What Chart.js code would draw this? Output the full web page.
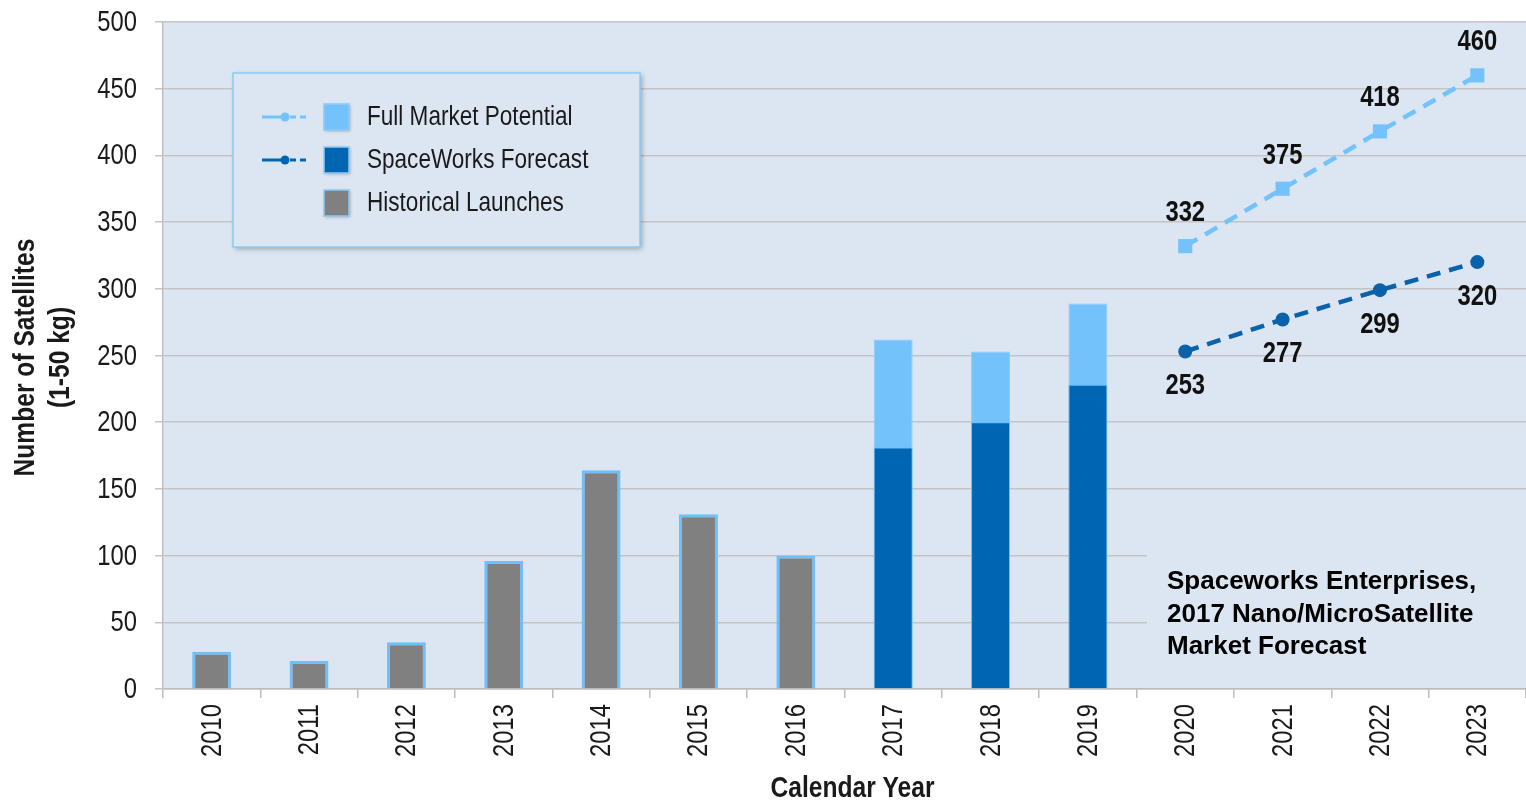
<!DOCTYPE html>
<html>
<head>
<meta charset="utf-8">
<script src="https://cdn.jsdelivr.net/npm/chart.js@4"></script>
<style>
  html, body { margin: 0; padding: 0; background: #fff; overflow: hidden; }
  #wrap { width: 1526px; height: 803px; }
  #satChart { display: block; }
</style>
</head>
<body>
<div id="wrap"><canvas id="satChart" width="1526" height="803"></canvas></div>
<script>
Chart.defaults.animation = false;

// --- Data ---
const years = ['2010', '2011', '2012', '2013', '2014', '2015', '2016', '2017', '2018', '2019', '2020', '2021', '2022', '2023'];
const historical = [28, 21, 35, 96, 164, 131, 100, null, null, null, null, null, null, null];
const forecastBars = [null, null, null, null, null, null, null, 181, 200, 228, null, null, null, null];
const fullBars = [null, null, null, null, null, null, null, 262, 253, 289, null, null, null, null];
const fullLine = [null, null, null, null, null, null, null, null, null, null, 332, 375, 418, 460];
const forecastLine = [null, null, null, null, null, null, null, null, null, null, 253, 277, 299, 320];
const yTicks = [0, 50, 100, 150, 200, 250, 300, 350, 400, 450, 500];
const yTitle = ['Number of Satellites', '(1-50 kg)'];
const xTitle = 'Calendar Year';
const noteLines = ['Spaceworks Enterprises,', '2017 Nano/MicroSatellite', 'Market Forecast'];

// no Arial Narrow here, so squeeze Liberation Sans (same metrics as Arial)
const SANS = '"Liberation Sans", Arial, sans-serif';
const SQUEEZE = 0.82;
const LIGHT = '#73c2fb';
const DARK = '#0066b3';
const GRAY = '#808080';
const PLOT_BG = '#dce6f2';
const TEXT = '#1a1a1a';

function narrowText(ctx, text, x, y, rot) {
  ctx.save();
  ctx.translate(x, y);
  if (rot) ctx.rotate(rot);
  ctx.scale(SQUEEZE, 1);
  ctx.fillText(text, 0, 0);
  ctx.restore();
}

// --- Plugins ---
const plotBackground = {
  id: 'plotBackground',
  beforeDraw(chart) {
    const { ctx, chartArea: a } = chart;
    ctx.save();
    ctx.fillStyle = PLOT_BG;
    ctx.fillRect(a.left, a.top, a.right - a.left, a.bottom - a.top);
    ctx.restore();
  }
};

// axis labels and titles, placed from the chart's own scales
const axisText = {
  id: 'axisText',
  afterDraw(chart) {
    const { ctx, chartArea: a } = chart;
    const xs = chart.scales.x, ys = chart.scales.y;
    ctx.save();
    ctx.fillStyle = TEXT;
    ctx.font = '29px ' + SANS;

    ctx.textAlign = 'right';
    ctx.textBaseline = 'middle';
    ys.ticks.forEach(t => narrowText(ctx, String(t.value), a.left - 26, ys.getPixelForValue(t.value) + 1));

    ctx.textAlign = 'right';
    chart.data.labels.forEach((lbl, i) => narrowText(ctx, lbl, xs.getPixelForTick(i) + 1, a.bottom + 15, -Math.PI / 2));

    ctx.font = 'bold 30px ' + SANS;
    ctx.textAlign = 'center';
    narrowText(ctx, xTitle, (a.left + a.right) / 2 + 8, 789);
    const cy = (a.top + a.bottom) / 2 + 2;
    narrowText(ctx, yTitle[0], 26, cy, -Math.PI / 2);
    narrowText(ctx, yTitle[1], 61, cy, -Math.PI / 2);
    ctx.restore();
  }
};

const pointLabels = {
  id: 'pointLabels',
  afterDatasetsDraw(chart) {
    const ctx = chart.ctx;
    ctx.save();
    ctx.font = 'bold 29px ' + SANS;
    ctx.fillStyle = '#111';
    ctx.textAlign = 'center';
    ctx.textBaseline = 'middle';
    chart.data.datasets.forEach((ds, i) => {
      if (!ds.labelPos) return;
      chart.getDatasetMeta(i).data.forEach((pt, j) => {
        const v = ds.data[j];
        if (v == null) return;
        const dy = ds.labelPos === 'above' ? -33 : 35;
        narrowText(ctx, String(v), pt.x, pt.y + dy);
      });
    });
    ctx.restore();
  }
};

const boxes = {
  id: 'boxes',
  afterDatasetsDraw(chart) {
    const { ctx, chartArea: a } = chart;
    ctx.save();

    // source note box (covers grid lines)
    ctx.fillStyle = PLOT_BG;
    ctx.fillRect(1147, 555, a.right - 1147, a.bottom - 556);
    ctx.fillStyle = '#000';
    ctx.font = 'bold 26px ' + SANS;
    ctx.textAlign = 'left';
    ctx.textBaseline = 'middle';
    noteLines.forEach((t, i) => ctx.fillText(t, 1167, 582 + i * 32.5));

    // legend box
    const lx = 233, ly = 73, lw = 407, lh = 174;
    ctx.shadowColor = 'rgba(0,0,0,0.3)';
    ctx.shadowBlur = 5;
    ctx.shadowOffsetX = 2;
    ctx.shadowOffsetY = 2;
    ctx.fillStyle = PLOT_BG;
    ctx.fillRect(lx, ly, lw, lh);
    ctx.shadowColor = 'transparent';
    ctx.strokeStyle = '#8ccbf5';
    ctx.lineWidth = 1.5;
    ctx.strokeRect(lx, ly, lw, lh);

    const rows = [
      { text: 'Full Market Potential', color: LIGHT, line: true },
      { text: 'SpaceWorks Forecast', color: DARK, line: true },
      { text: 'Historical Launches', color: GRAY, line: false }
    ];
    rows.forEach((r, i) => {
      const cy = 117 + i * 43;
      if (r.line) {
        ctx.strokeStyle = r.color;
        ctx.lineWidth = 3;
        ctx.beginPath();
        ctx.moveTo(262, cy);
        ctx.lineTo(285, cy);
        ctx.stroke();
        ctx.setLineDash([6, 4]);
        ctx.beginPath();
        ctx.moveTo(290, cy);
        ctx.lineTo(309, cy);
        ctx.stroke();
        ctx.setLineDash([]);
        ctx.fillStyle = r.color;
        ctx.beginPath();
        ctx.arc(285, cy, 4.5, 0, Math.PI * 2);
        ctx.fill();
      }
      ctx.shadowColor = 'rgba(0,0,0,0.3)';
      ctx.shadowBlur = 3;
      ctx.shadowOffsetX = 1;
      ctx.shadowOffsetY = 1;
      ctx.fillStyle = r.color;
      ctx.fillRect(324, cy - 13, 25, 26);
      ctx.shadowColor = 'transparent';
      ctx.strokeStyle = '#8ccbf5';
      ctx.lineWidth = 1.5;
      ctx.strokeRect(324, cy - 13, 25, 26);
      ctx.fillStyle = TEXT;
      ctx.font = '27.5px ' + SANS;
      ctx.textAlign = 'left';
      ctx.textBaseline = 'middle';
      narrowText(ctx, r.text, 367, cy);
    });
    ctx.restore();
  }
};

// --- Chart ---
const barStyle = { barPercentage: 0.4, categoryPercentage: 1, grouped: false };

new Chart(document.getElementById('satChart'), {
  type: 'bar',
  data: {
    labels: years,
    datasets: [
      {
        type: 'line', label: 'Full Market Potential', data: fullLine, order: 0,
        borderColor: LIGHT, backgroundColor: LIGHT, borderWidth: 4.5, borderDash: [14, 9],
        pointStyle: 'rect', pointRadius: 10, pointBorderWidth: 0, labelPos: 'above'
      },
      {
        type: 'line', label: 'SpaceWorks Forecast line', data: forecastLine, order: 0,
        borderColor: '#0a62aa', backgroundColor: '#0a62aa', borderWidth: 4.5, borderDash: [14, 9],
        pointStyle: 'circle', pointRadius: 7, pointBorderWidth: 0, labelPos: 'below'
      },
      Object.assign({ label: 'SpaceWorks Forecast', data: forecastBars, order: 1,
        backgroundColor: DARK, borderColor: '#6cbcf5', borderWidth: 1 }, barStyle),
      Object.assign({ label: 'Full Market Potential bar', data: fullBars, order: 2,
        backgroundColor: LIGHT, borderColor: '#8ccbf5', borderWidth: 1 }, barStyle),
      Object.assign({ label: 'Historical Launches', data: historical, order: 3,
        backgroundColor: GRAY, borderColor: '#6fc0fa', borderWidth: 3 }, barStyle)
    ]
  },
  options: {
    responsive: false,
    layout: { autoPadding: false, padding: { top: 22, right: 0, left: 0, bottom: 0 } },
    plugins: { legend: { display: false }, tooltip: { enabled: false } },
    scales: {
      x: {
        afterFit(scale) { scale.height = 114; },
        grid: { display: true, drawOnChartArea: false, tickLength: 9, color: '#bdbdbd', lineWidth: 1.5 },
        border: { color: '#bdbdbd', width: 1.5 },
        ticks: { display: false }
      },
      y: {
        min: 0, max: 500,
        afterFit(scale) { scale.width = 163; },
        afterBuildTicks(scale) { scale.ticks = yTicks.map(v => ({ value: v })); },
        grid: { color: '#c4c4c4', lineWidth: 1.5, tickLength: 8 },
        border: { color: '#bdbdbd', width: 1.5 },
        ticks: { display: false }
      }
    }
  },
  plugins: [plotBackground, axisText, pointLabels, boxes]
});
</script>
</body>
</html>
